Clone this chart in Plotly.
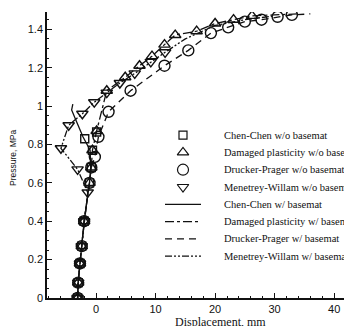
import plotly.graph_objects as go

# ---- data (Displacement mm, Pressure MPa) ----
cc_wo_x = [-3.1, -3.0, -2.7, -2.4, -2.0, -1.1, -0.8, -0.6, -1.9, 0.1]
cc_wo_y = [0.0, 0.08, 0.18, 0.27, 0.40, 0.60, 0.68, 0.77, 0.83, 0.865]

dp_wo_x = [-3.1, -3.0, -2.7, -2.4, -2.0, -1.1, -0.8, -0.6, 0.1, 1.8, 4.9, 7.3, 9.4, 11.5, 13.3, 16.9, 20.0, 23.1, 26.2]
dp_wo_y = [0.0, 0.08, 0.18, 0.27, 0.40, 0.60, 0.68, 0.77, 0.87, 1.08, 1.15, 1.21, 1.26, 1.32, 1.37, 1.39, 1.43, 1.45, 1.47]

dr_wo_x = [-3.1, -3.0, -2.7, -2.4, -2.0, -1.1, -0.8, -0.2, 0.4, 2.1, 5.8, 11.5, 15.5, 19.3, 22.2, 25.0, 27.8, 30.5, 32.9]
dr_wo_y = [0.0, 0.08, 0.18, 0.27, 0.40, 0.60, 0.68, 0.735, 0.84, 0.97, 1.08, 1.21, 1.29, 1.38, 1.41, 1.44, 1.45, 1.465, 1.475]

mw_wo_x = [-3.1, -3.0, -2.7, -2.4, -2.0, -1.4, -3.1, -5.9, -4.6, -2.3, -0.3, 1.8, 4.0, 6.5, 9.2, 11.6]
mw_wo_y = [0.0, 0.08, 0.18, 0.27, 0.40, 0.55, 0.67, 0.78, 0.90, 0.96, 1.02, 1.07, 1.12, 1.17, 1.23, 1.28]

cc_w_x = [-3.1, -3.0, -2.7, -2.4, -2.0, -1.1, -0.9, -1.0, -2.2, -3.5, -4.1, -3.9]
cc_w_y = [0.0, 0.08, 0.18, 0.27, 0.40, 0.60, 0.68, 0.77, 0.84, 0.935, 0.98, 1.01]

dp_w_x = [-3.1, -3.0, -2.7, -2.4, -2.0, -1.1, -0.8, -0.6, 0.1, 1.8, 4.9, 7.3, 9.4, 11.5, 13.3, 16.9, 20.0, 23.1, 26.2, 30.0, 34.0]
dp_w_y = [0.0, 0.08, 0.18, 0.27, 0.40, 0.60, 0.68, 0.77, 0.87, 1.08, 1.15, 1.21, 1.26, 1.32, 1.37, 1.39, 1.43, 1.45, 1.47, 1.475, 1.48]

dr_w_x = [-3.1, -3.0, -2.7, -2.4, -2.0, -1.1, -0.8, -0.2, 0.4, 2.1, 5.8, 11.5, 15.5, 19.3, 22.2, 25.0, 27.8, 30.5, 32.9, 36.0]
dr_w_y = [0.0, 0.08, 0.18, 0.27, 0.40, 0.60, 0.68, 0.735, 0.84, 0.97, 1.08, 1.21, 1.29, 1.38, 1.41, 1.44, 1.45, 1.465, 1.475, 1.48]

mw_w_x = [-3.1, -3.0, -2.7, -2.4, -2.0, -1.4, -3.1, -5.9, -4.6, -2.3, -0.3, 1.8, 4.0, 6.5, 9.2, 11.6, 15.0, 20.0, 25.0, 30.0]
mw_w_y = [0.0, 0.08, 0.18, 0.27, 0.40, 0.55, 0.67, 0.78, 0.90, 0.96, 1.02, 1.07, 1.12, 1.17, 1.23, 1.28, 1.35, 1.42, 1.45, 1.47]

legend_labels = [
    "Chen-Chen w/o basemat",
    "Damaged plasticity w/o basemat",
    "Drucker-Prager w/o basemat",
    "Menetrey-Willam w/o basemat",
    "Chen-Chen w/ basemat",
    "Damaged plasticity w/ basemat",
    "Drucker-Prager w/ basemat",
    "Menetrey-Willam w/ basemat",
]

x_range = [-8.24, 43.0]
y_range = [0.0, 1.49]

# page body has an 8px margin: lay out in window pixels, then shift
OFF = 8
WIN_W, WIN_H = 352, 326
PL, PR, PT, PB = 47, 352, 12, 298          # plot area in window pixels
W, H = WIN_W - OFF, WIN_H - OFF
ML, MR, MT, MB = PL - OFF, 0, PT - OFF, H - (PB - OFF)

BLACK = "#111111"
DDD = "7px,2px,2px,2px,2px,2px"

fig = go.Figure()

line_series = [
    (cc_w_x, cc_w_y, "solid"),
    (dp_w_x, dp_w_y, "dashdot"),
    (dr_w_x, dr_w_y, "7px,5px"),
    (mw_w_x, mw_w_y, DDD),
]
for xs, ys, dash in line_series:
    fig.add_trace(go.Scatter(x=xs, y=ys, mode="lines", showlegend=False,
                             line=dict(color=BLACK, width=1.3, dash=dash)))

marker_series = [
    (cc_wo_x, cc_wo_y, "square-open", 8),
    (dp_wo_x, dp_wo_y, "triangle-up-open", 10),
    (dr_wo_x, dr_wo_y, "circle-open", 11),
    (mw_wo_x, mw_wo_y, "triangle-down-open", 10),
]
for xs, ys, sym, sz in marker_series:
    fig.add_trace(go.Scatter(x=xs, y=ys, mode="markers", showlegend=False,
                             marker=dict(symbol=sym, size=sz, color=BLACK,
                                         line=dict(color=BLACK, width=1.4))))

# ---- legend drawn on a pixel overlay axis (window pixel coordinates) ----
leg_rows = [135.1, 152.4, 169.7, 187.0, 204.3, 221.6, 238.9, 256.2]
leg_text_x = 222
leg_mark_x = 183
leg_line_x = [165, 201]
for i, lab in enumerate(legend_labels):
    yy = leg_rows[i]
    if i < 4:
        sym, sz = marker_series[i][2], marker_series[i][3]
        fig.add_trace(go.Scatter(x=[leg_mark_x], y=[yy], xaxis="x2", yaxis="y2",
                                 mode="markers", showlegend=False,
                                 marker=dict(symbol=sym, size=sz, color=BLACK,
                                             line=dict(color=BLACK, width=1.2))))
    else:
        dash = line_series[i - 4][2]
        fig.add_trace(go.Scatter(x=leg_line_x, y=[yy, yy], xaxis="x2", yaxis="y2",
                                 mode="lines", showlegend=False,
                                 line=dict(color=BLACK, width=1.3, dash=dash)))
    fig.add_annotation(x=leg_text_x, y=yy, xref="x2", yref="y2", text=lab,
                       showarrow=False, xanchor="left", yanchor="middle",
                       font=dict(family="Liberation Serif", size=10.5, color=BLACK))


def px(xw):
    return (xw - PL) / (PR - PL)


def py(yw):
    return (PB - yw) / (PB - PT)


fig.add_annotation(x=px(220), y=py(322), xref="paper", yref="paper",
                   text="Displacement, mm", showarrow=False, xanchor="center", yanchor="middle",
                   font=dict(family="Liberation Serif", size=12, color=BLACK))
fig.add_annotation(x=px(13), y=py(158), xref="paper", yref="paper",
                   text="Pressure, MPa", showarrow=False, textangle=-90,
                   xanchor="center", yanchor="middle",
                   font=dict(family="Liberation Sans", size=8.5, color=BLACK))

axis_common = dict(showgrid=False, zeroline=False, showline=True, linecolor=BLACK,
                   linewidth=1.5, ticks="inside", tickcolor=BLACK, tickwidth=1.2,
                   ticklen=5, tickfont=dict(family="Liberation Sans", size=11, color=BLACK))

fig.update_layout(
    width=W, height=H,
    margin=dict(l=ML, r=MR, t=MT, b=MB),
    paper_bgcolor="white", plot_bgcolor="white",
    showlegend=False,
    xaxis=dict(range=x_range, tick0=0, dtick=10, **axis_common,
               minor=dict(dtick=2, ticks="inside", ticklen=2.5, tickcolor=BLACK)),
    yaxis=dict(range=y_range, tick0=0, dtick=0.2, **axis_common,
               minor=dict(dtick=0.05, ticks="inside", ticklen=2.5, tickcolor=BLACK)),
    xaxis2=dict(range=[PL, PR], overlaying="x", visible=False),
    yaxis2=dict(range=[PB, PT], overlaying="y", visible=False),
)

fig.write_html("out.html")
